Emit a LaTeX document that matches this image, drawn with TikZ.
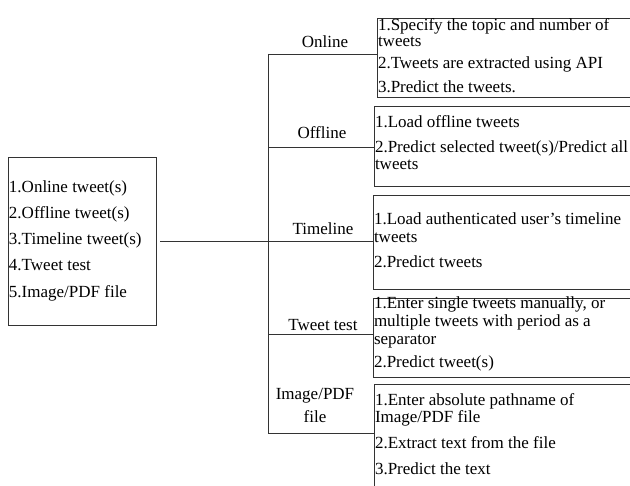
\documentclass[tikz,border=0pt]{standalone}
\usepackage{fontspec}
\setmainfont{Liberation Serif}
\begin{document}
\begin{tikzpicture}[x=1pt,y=-1pt,
  every node/.style={font=\fontsize{17}{18}\selectfont, inner sep=0pt, outer sep=0pt},
  conn/.style={draw=black!80, line width=0.9pt},
  boxr/.style={draw=black!80, line width=0.9pt, rectangle, anchor=north west, inner sep=0pt},
  ln/.style={anchor=base west},
  lab/.style={anchor=center, align=center}]
\clip (0,0) rectangle (630,486);
\fill[white] (0,0) rectangle (630,486);

% left menu box
\node[boxr, minimum width=148pt, minimum height=168pt] (menu) at (8,157) {};
\node[ln] (m1) at (9,193) {1.Online tweet(s)};
\node[ln] (m2) at (9,219) {2.Offline tweet(s)};
\node[ln] (m3) at (9,245) {3.Timeline tweet(s)};
\node[ln] (m4) at (9,271) {4.Tweet test};
\node[ln] (m5) at (9,298) {5.Image/PDF file};

% right boxes
\node[boxr, minimum width=270pt, minimum height=79pt] (online) at (377,18) {};
\node[boxr, minimum width=270pt, minimum height=80pt] (offline) at (374,106) {};
\node[boxr, minimum width=270pt, minimum height=94pt] (timeline) at (373,195) {};
\node[boxr, minimum width=270pt, minimum height=79pt] (tweet) at (373,298) {};
\node[boxr, minimum width=270pt, minimum height=130pt] (image) at (374,384) {};

% box texts
\node[ln] (o1) at (378,31) {1.Specify the topic and number of};
\node[ln] (o2) at (378,47) {tweets};
\node[ln] (o3) at (378,69) {2.Tweets are extracted using API};
\node[ln] (o4) at (378,93) {3.Predict the tweets.};

\node[ln] (f1) at (375,128) {1.Load offline tweets};
\node[ln] (f2) at (375,153) {2.Predict selected tweet(s)/Predict all};
\node[ln] (f3) at (375,170) {tweets};

\node[ln] (t1) at (374,225) {1.Load authenticated user’s timeline};
\node[ln] (t2) at (374,243) {tweets};
\node[ln] (t3) at (374,268) {2.Predict tweets};

\node[ln] (w1) at (374,309) {1.Enter single tweets manually, or};
\node[ln] (w2) at (374,327) {multiple tweets with period as a};
\node[ln] (w3) at (374,345) {separator};
\node[ln] (w4) at (374,368) {2.Predict tweet(s)};

\node[ln] (i1) at (375,406) {1.Enter absolute pathname of};
\node[ln] (i2) at (375,423) {Image/PDF file};
\node[ln] (i3) at (375,449) {2.Extract text from the file};
\node[ln] (i4) at (375,475) {3.Predict the text};

% branch labels
\node[lab] (lonline) at (325,42) {Online};
\node[lab] (loffline) at (322,133) {Offline};
\node[lab] (ltimeline) at (323,229) {Timeline};
\node[lab] (ltweet) at (323,325) {Tweet test};
\node[lab, font=\fontsize{17}{23}\selectfont] (limage) at (315,405) {Image/PDF\\file};

% connectors
\coordinate (hub) at (268,241);
\coordinate (vtop) at (268,54);
\coordinate (b2) at (268,147);
\coordinate (b4) at (268,334);
\coordinate (vbot) at (268,433);
\draw[conn] ([xshift=4pt]menu.east) -- (hub);
\draw[conn] (vtop) -- (vbot);
\draw[conn] (vtop) -- (vtop -| online.west);
\draw[conn] (b2) -- (b2 -| offline.west);
\draw[conn] (hub) -- (hub -| timeline.west);
\draw[conn] (b4) -- (b4 -| tweet.west);
\draw[conn] (vbot) -- (vbot -| image.west);
\end{tikzpicture}
\end{document}
